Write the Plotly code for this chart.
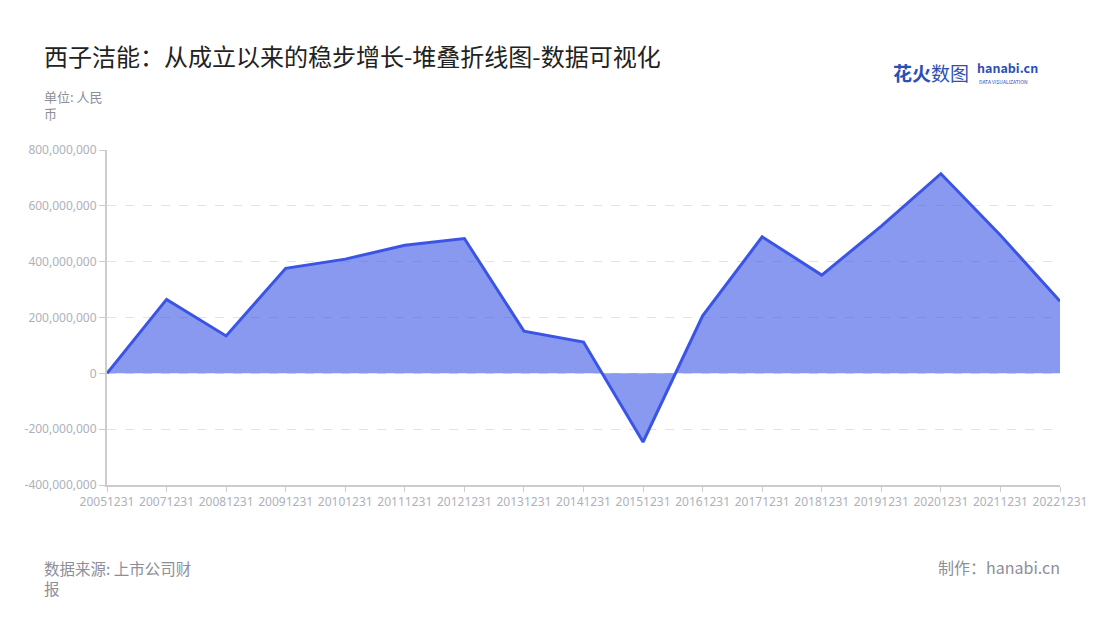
import plotly.graph_objects as go

dates = ["20051231", "20071231", "20081231", "20091231", "20101231", "20111231",
         "20121231", "20131231", "20141231", "20151231", "20161231", "20171231",
         "20181231", "20191231", "20201231", "20211231", "20221231"]
profit = [0, 265e6, 134e6, 376e6, 409e6, 459e6, 483e6, 151e6, 112e6, -246e6,
          206e6, 489e6, 352e6, 527e6, 715e6, 495e6, 258e6]
y_ticks = [-400e6, -200e6, 0, 200e6, 400e6, 600e6, 800e6]
y_labels = ["-400,000,000", "-200,000,000", "0", "200,000,000", "400,000,000",
            "600,000,000", "800,000,000"]

FONT = "Noto Sans CJK SC, Noto Sans, sans-serif"
OFF = 8  # page body margin
L, R, T, B = 107 - OFF, 48, 150 - OFF, 620 - 485 + OFF
W, H = 1100, 620

fig = go.Figure()
fig.add_trace(go.Scatter(
    x=dates, y=profit, mode="lines",
    line=dict(color="#3A55E6", width=3),
    fill="tozeroy", fillcolor="rgba(58,85,230,0.6)",
    hoverinfo="x+y", showlegend=False,
))

tickfont = dict(size=12, color="#aeb1bb", family="Noto Sans, Lato, sans-serif")
fig.update_layout(
    width=W, height=H,
    paper_bgcolor="white", plot_bgcolor="white",
    margin=dict(l=L, r=R, t=T, b=B),
    font=dict(family=FONT, color="#999999"),
    xaxis=dict(
        type="category", range=[0, len(dates) - 1],
        showline=True, linecolor="#cccccc", linewidth=2,
        ticks="outside", tickcolor="#cccccc", ticklen=5,
        showgrid=False, tickangle=0, tickfont=tickfont,
    ),
    yaxis=dict(
        range=[-400e6, 800e6], tickvals=y_ticks, ticktext=y_labels,
        showline=True, linecolor="#cccccc", linewidth=2,
        ticks="outside", tickcolor="#cccccc", ticklen=6,
        showgrid=True, gridcolor="#e3e3e3", griddash="dash", gridwidth=1,
        zeroline=False, tickfont=tickfont,
    ),
)

pw = W - L - R
ph = H - T - B
# (text, px_x, px_y, size, color, anchor) in window pixel coordinates
texts = [
    ("西子洁能：从成立以来的稳步增长-堆叠折线图-数据可视化", 42, 55, 24, "#222222", "left"),
    ("单位: 人民<br>币", 42, 105, 13, "#8e8e99", "left"),
    ("数据来源: 上市公司财<br>报", 42, 578, 15.5, "#8e8e99", "left"),
    ("制作：hanabi.cn", 1062, 567, 16, "#8e8e99", "right"),
    ("<b>花火</b>数图", 891, 72, 19, "#2b4fb8", "left"),
    ("<b>hanabi.cn</b>", 975, 67, 12.5, "#2b4fb8", "left"),
    ("DATA VISUALIZATION", 977, 81, 5, "#2b4fb8", "left"),
]
anns = []
for text, px, py, size, color, anchor in texts:
    anns.append(dict(
        text=text, showarrow=False, xref="paper", yref="paper",
        x=(px - OFF - L) / pw, y=(H - B - (py - OFF)) / ph,
        xanchor=anchor, yanchor="middle", align=anchor,
        font=dict(size=size, color=color, family=FONT),
    ))
fig.update_layout(annotations=anns)

fig.write_html("out.html")
